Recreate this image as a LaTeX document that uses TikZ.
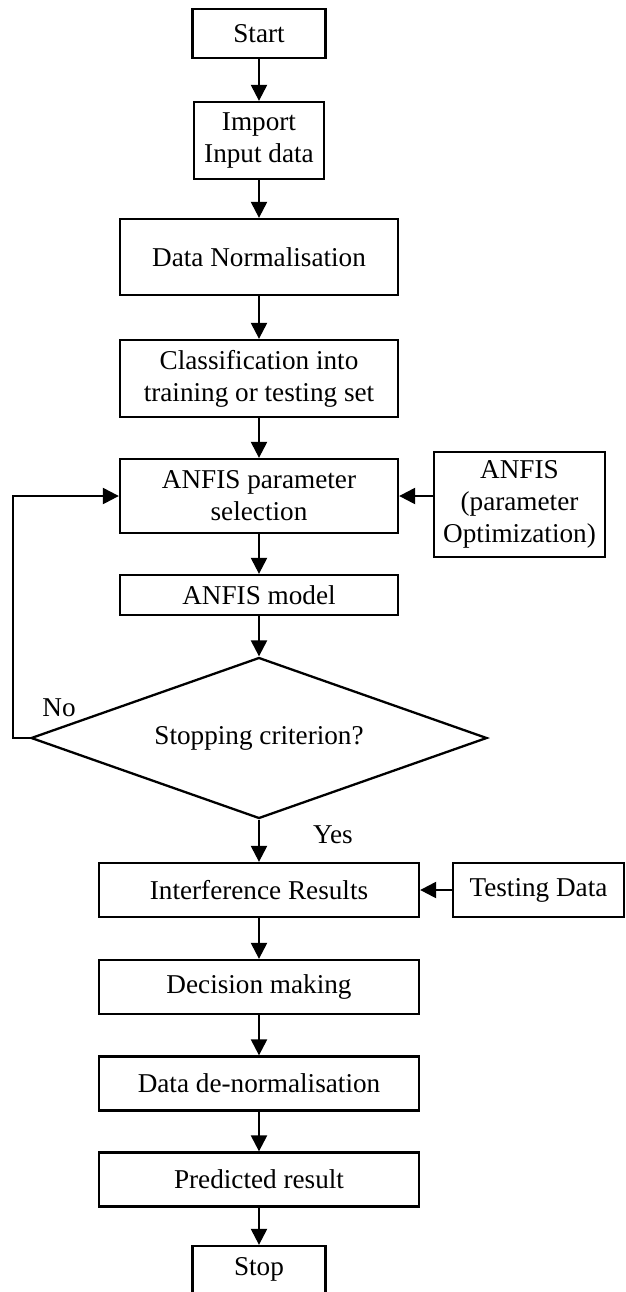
\documentclass[tikz,border=0pt]{standalone}
\usepackage{fontspec}
\setmainfont{Liberation Serif}
\usetikzlibrary{shapes.geometric, arrows.meta, positioning}

\begin{document}
\begin{tikzpicture}[x=0.5pt, y=-0.5pt, line width=1.15pt,
	every node/.style={font=\fontsize{13.6}{16}\selectfont},
	box/.style={draw, rectangle, align=center, inner sep=0pt},
	flow/.style={-{Triangle[length=8pt,width=8pt]}}]
	\useasboundingbox (0,0) rectangle (626,1292);
	
	\node[box, minimum width=66.5pt, minimum height=24.5pt] (start) at (259,33.5) {Start};
	\node[box, minimum width=65pt, minimum height=38.5pt] (import) at (259,140.5) {Import\\Input data};
	\node[box, minimum width=139pt, minimum height=38pt] (norm) at (259,257) {Data Normalisation};
	\node[box, minimum width=139pt, minimum height=38.5pt] (classif) at (259,378.5) {Classification into\\training or testing set};
	\node[box, minimum width=139pt, minimum height=37pt] (paramsel) at (259,496) {ANFIS parameter\\selection};
	\node[box, minimum width=85.5pt, minimum height=52.5pt] (paramopt) at (519.5,504.5) {ANFIS\\(parameter\\Optimization)};
	\node[box, minimum width=139pt, minimum height=20pt] (model) at (259,595) {ANFIS model};
	\node[draw, diamond, aspect=2.83, inner sep=0pt, minimum width=228pt, minimum height=80.5pt] (crit) at (259,738) {Stopping criterion?};
	
	\node[box, minimum width=160pt, minimum height=27pt] (interf) at (259,890) {Interference Results};
	\node[box, minimum width=85.5pt, minimum height=27pt] (testing) at (538.5,890) {Testing Data};
	\node[box, minimum width=160pt, minimum height=27pt] (decision) at (259,987) {Decision making};
	\node[box, minimum width=160pt, minimum height=27pt] (denorm) at (259,1083.5) {Data de-normalisation};
	\node[box, minimum width=160pt, minimum height=27pt] (predicted) at (259,1179.5) {Predicted result};
	\node[box, minimum width=66.5pt, minimum height=23.5pt] (stop) at (259,1269.5) {Stop};
	
	\draw[flow] (start) -- (import);
	\draw[flow] (import) -- (norm);
	\draw[flow] (norm) -- (classif);
	\draw[flow] (classif) -- (paramsel);
	\draw[flow] (paramopt.west |- paramsel.east) -- (paramsel.east);
	\draw[flow] (paramsel) -- (model);
	\draw[flow] (model) -- (crit);
	\draw[flow] (crit.west) -- ++(-17,0) |- (paramsel.west);
	\draw[flow] (crit) -- (interf);
	\draw[flow] (testing) -- (interf);
	\draw[flow] (interf) -- (decision);
	\draw[flow] (decision) -- (denorm);
	\draw[flow] (denorm) -- (predicted);
	\draw[flow] (predicted) -- (stop);
	
	\node (no) at (59,708) {No};
	\node (yes) at (333,835) {Yes};
\end{tikzpicture}
\end{document}
